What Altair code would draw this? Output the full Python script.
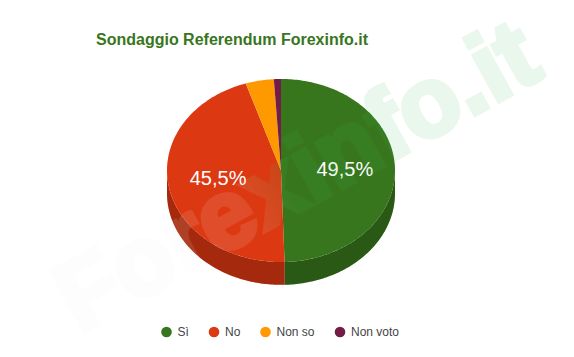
import math
import pandas as pd
import altair as alt

# ---- data
title_text = "Sondaggio Referendum Forexinfo.it"
names = ["Sì", "No", "Non so", "Non voto"]
shares = [49.5, 45.5, 4.0, 1.0]
colors = ["#38761d", "#dc3912", "#ff9900", "#741b47"]
labels = ["49,5%", "45,5%", "", ""]

# tilt of the 3-D pie, in radius units
TILT = 0.803
DEPTH = 0.2
LABEL_R = 0.56
total = sum(shares)


def point(frac, r=1.0):
    a = 2 * math.pi * frac
    return [r * math.sin(a), r * TILT * math.cos(a)]


def arc(f0, f1):
    n = max(2, int((f1 - f0) * 360) + 1)
    return [point(f0 + (f1 - f0) * i / n) for i in range(n + 1)]


def feature(name, ring):
    return {
        "type": "Feature",
        "properties": {"name": name},
        "geometry": {"type": "Polygon", "coordinates": [ring + [ring[0]]]},
    }


tops, sides, label_rows = [], [], []
start = 0.0
for name, share, lab in zip(names, shares, labels):
    f0, f1 = start, start + share / total
    tops.append(feature(name, [[0.0, 0.0]] + arc(f0, f1)))
    a0, a1 = max(f0, 0.25), min(f1, 0.75)
    if a1 > a0:
        upper = arc(a0, a1)
        lower = [[x, y - DEPTH] for x, y in reversed(upper)]
        sides.append(feature(name, upper + lower))
    if lab:
        lon, lat = point((f0 + f1) / 2, LABEL_R)
        label_rows.append({"lon": lon, "lat": lat, "label": lab})
    start = f1

projection = dict(type="identity", reflectY=True, scale=114, translate=[273, 125.5])

color = alt.Color(
    "properties.name:N",
    scale=alt.Scale(domain=names, range=colors),
    legend=alt.Legend(
        title=None,
        orient="none",
        legendX=152.5,
        legendY=281,
        direction="horizontal",
        columns=4,
        columnPadding=18.5,
        symbolType="circle",
        symbolSize=113,
        symbolStrokeWidth=0,
        symbolOpacity=1,
        labelFont="Liberation Sans",
        labelFontSize=12,
        labelColor="#444444",
        labelOffset=5,
    ),
)

side_layer = (
    alt.Chart(alt.Data(values=sides))
    .mark_geoshape(strokeWidth=0)
    .encode(color=color)
    .project(**projection)
)
side_shade = (
    alt.Chart(alt.Data(values=sides))
    .mark_geoshape(strokeWidth=0, fill="#000000", fillOpacity=0.25)
    .project(**projection)
)
top_layer = (
    alt.Chart(alt.Data(values=tops))
    .mark_geoshape(strokeWidth=0)
    .encode(color=color)
    .project(**projection)
)
label_layer = (
    alt.Chart(pd.DataFrame(label_rows))
    .mark_text(font="Liberation Sans", fontSize=20, color="#ffffff", baseline="middle")
    .encode(longitude="lon:Q", latitude="lat:Q", text="label:N")
    .project(**projection)
)

wm_paint = alt.Gradient(
    gradient="linear",
    x1=0, y1=0, x2=1, y2=0,
    stops=[
        alt.GradientStop(offset=0.0, color="#f0f0f0"),
        alt.GradientStop(offset=0.2, color="#f0f0f0"),
        alt.GradientStop(offset=0.28, color="#ffffff"),
        alt.GradientStop(offset=0.38, color="#ffffff"),
        alt.GradientStop(offset=0.48, color="#37b94b"),
        alt.GradientStop(offset=1.0, color="#37b94b"),
    ],
)

watermark = (
    alt.Chart(pd.DataFrame({"text": ["Forexinfo.it"]}))
    .mark_text(
        font="Liberation Sans",
        fontWeight="bold",
        fontSize=98,
        align="left",
        baseline="alphabetic",
        angle=331,
        fill=wm_paint,
        stroke=wm_paint,
        strokeWidth=5,
        opacity=0.1,
    )
    .encode(x=alt.value(71), y=alt.value(289), text="text:N")
)

title_layer = (
    alt.Chart(pd.DataFrame({"text": [title_text]}))
    .mark_text(
        font="Liberation Sans",
        fontSize=16,
        fontWeight="bold",
        color="#38761d",
        align="left",
        baseline="alphabetic",
    )
    .encode(x=alt.value(88), y=alt.value(0), text="text:N")
)

chart = (
    alt.layer(side_layer, side_shade, top_layer, label_layer, watermark, title_layer)
    .properties(
        width=558,
        height=304,
        padding=alt.Padding(left=0, top=37, right=0, bottom=0),
        autosize=alt.AutoSizeParams(type="none"),
        background="#ffffff",
    )
    .configure_view(stroke=None)
)

chart.save("out.html", embed_options={"renderer": "svg", "actions": False})
